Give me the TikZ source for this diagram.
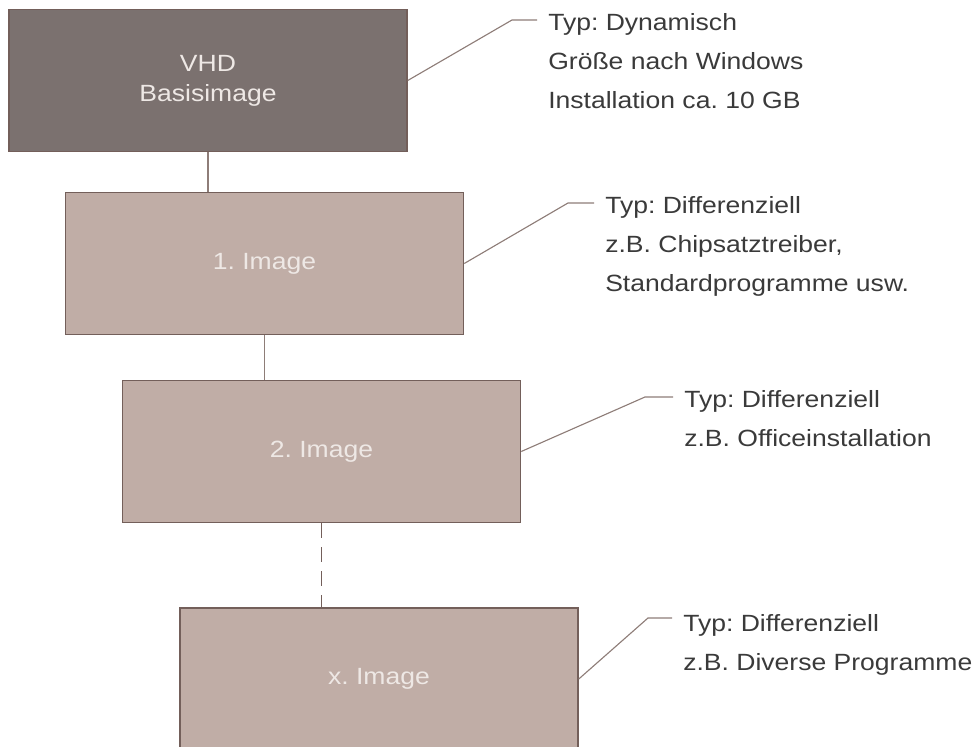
\documentclass[tikz,border=0pt]{standalone}
\usepackage{fontspec}
\setmainfont[FakeStretch=1.13]{Liberation Sans}
\frenchspacing
\usetikzlibrary{positioning}
\definecolor{cdark}{HTML}{7B716F}
\definecolor{clight}{HTML}{C0ADA6}
\definecolor{cedge}{HTML}{735F5A}
\definecolor{cline}{HTML}{8E7D78}
\definecolor{ctext}{HTML}{3A3A3A}
\definecolor{cpale}{HTML}{EEE8E5}
\tikzset{
  img/.style={draw=cedge, fill=#1, line width=1pt, minimum width=9.95cm, minimum height=3.55cm, inner sep=0pt, align=center, text=cpale, font=\fontsize{16.7}{21.3}\selectfont},
  img/.default=clight,
  link/.style={draw=cline, line width=1pt},
  callout/.style={draw=cline, line width=0.8pt},
  info/.style={anchor=north west, align=left, inner xsep=0.275cm, inner ysep=0pt, text=ctext, font=\fontsize{16.7}{27.7}\selectfont},
}
\begin{document}
\begin{tikzpicture}[x=0.025cm, y=-0.025cm]
  \useasboundingbox (0,0) rectangle (973,747);

  % images
  \node[img=cdark] (base) at (208,80.5) {VHD\\Basisimage};
  \node[img] (img1) at (264.5,263.5) {1. Image};
  \node[img] (img2) at (321.5,451.5) {2. Image};
  \node[img] (imgx) at (379,679) {x. Image};

  % notes
  \node[info] (t0) at (537,13) {Typ: Dynamisch\\Größe nach Windows\\Installation ca. 10 GB};
  \node[info] (t1) at (594,196) {Typ: Differenziell\\z.B. Chipsatztreiber,\\Standardprogramme usw.};
  \node[info] (t2) at (673,390) {Typ: Differenziell\\z.B. Officeinstallation};
  \node[info] (t3) at (672,614) {Typ: Differenziell\\z.B. Diverse Programme};
  \coordinate (k0) at (512,20);
  \coordinate (k1) at (568,203);
  \coordinate (k2) at (645,397);
  \coordinate (k3) at (648,618);

  % links
  \draw[link] (base.south) -- (base.south |- img1.north);
  \draw[link] (img1.south) -- (img1.south |- img2.north);
  \draw[link, draw=cedge, dash pattern=on 0.375cm off 0.225cm] (img2.south) -- (img2.south |- imgx.north);
  \draw[callout] (base.east) -- (k0) -- (k0 -| t0.west);
  \draw[callout] (img1.east) -- (k1) -- (k1 -| t1.west);
  \draw[callout] (img2.east) -- (k2) -- (k2 -| t2.west);
  \draw[callout] (imgx.east) -- (k3) -- (k3 -| t3.west);
\end{tikzpicture}
\end{document}
